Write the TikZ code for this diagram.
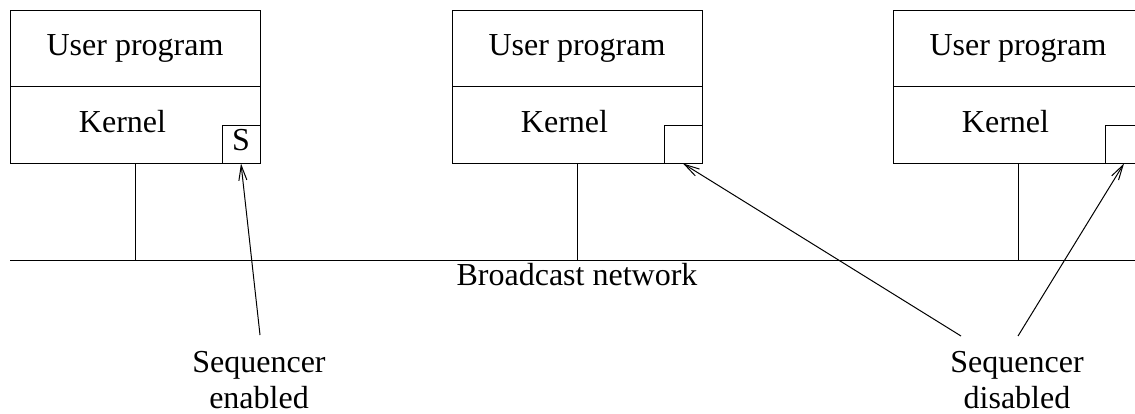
\documentclass[tikz,border=0pt]{standalone}
\usepackage{fontspec}
\setmainfont{Liberation Serif}
\usetikzlibrary{arrows.meta}
\begin{document}
\begin{tikzpicture}[x=0.5pt,y=-0.5pt,
  every node/.style={font=\fontsize{16}{18}\selectfont, inner sep=0pt},
  part/.style={draw, line width=0.5pt, minimum width=125pt, minimum height=38.25pt},
  seqbox/.style={draw, line width=0.5pt, minimum size=19pt},
  wire/.style={line width=0.5pt},
  pointer/.style={line width=0.5pt, -{Straight Barb[length=7.5pt,width=4pt]}},
  lbl/.style={align=center}]
\clip (0,0) rectangle (1135,413);
\foreach \i/\cx in {1/135, 2/577, 3/1018} {
  \node[part] (u\i) at (\cx,48.5) {};
  \node[part] (k\i) at (\cx,125) {};
  \node[anchor=base] (ut\i) at (\cx,55) {User program};
  \node[anchor=base] (kt\i) at (\cx-12.5,132) {Kernel};
  \node[seqbox] (s\i) at (\cx+106,144) {};
  \coordinate (n\i) at (\cx,260);
  \draw[wire] (k\i.south) -- (n\i);
}
\node[anchor=base] (stxt) at (241,150) {S};
\coordinate (netL) at (10,260);
\coordinate (netR) at (1140,260);
\draw[wire] (netL) -- (netR);
\node[anchor=base] (net) at (577,285) {Broadcast network};
\node[lbl, anchor=base] (en) at (259,408) {Sequencer\\enabled};
\node[lbl, anchor=base] (dis) at (1017,408) {Sequencer\\disabled};
\coordinate (t1) at (260,335);
\coordinate (t2) at (961,336);
\coordinate (t3) at (1018,336);
\draw[pointer] (t1) -- (s1.south);
\draw[pointer] (t2) -- (s2.south);
\draw[pointer] (t3) -- (s3.south);
\end{tikzpicture}
\end{document}
